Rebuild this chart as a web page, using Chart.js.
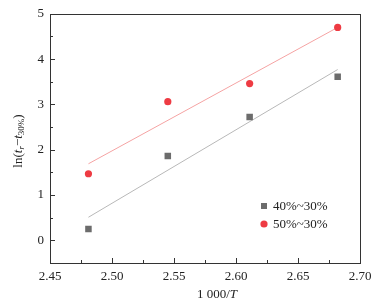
<!DOCTYPE html>
<html>
<head>
<meta charset="utf-8">
<script src="https://cdn.jsdelivr.net/npm/chart.js@4"></script>
<style>
  html, body { margin: 0; padding: 0; background: #fff; }
  #wrap { width: 384px; height: 306px; position: relative; }
</style>
</head>
<body>
<div id="wrap"><canvas id="chart"></canvas></div>
<script>
// values
const xVals = [2.481, 2.545, 2.611, 2.682];
const grey40 = [0.25, 1.86, 2.72, 3.61];
const red50 = [1.47, 3.06, 3.46, 4.70];
const fitX = [2.481, 2.682];
const fitGrey = [0.51, 3.77];
const fitRed = [1.69, 4.70];
const xTicks = [2.45, 2.50, 2.55, 2.60, 2.65, 2.70];
const yTicks = [0, 1, 2, 3, 4, 5];
const seriesNames = ['40%~30%', '50%~30%'];

const FONT = '"Liberation Serif", "Times New Roman", serif';
const INK = '#333';

function pts(xs, ys) {
    return xs.map((x, i) => ({ x: x, y: ys[i] }));
}

// frame, inward ticks, axis titles and legend
const framePlugin = {
    id: 'frame',
    afterDraw(chart) {
        const ctx = chart.ctx;
        const a = chart.chartArea;
        const xs = chart.scales.x, ys = chart.scales.y;
        ctx.save();
        ctx.strokeStyle = INK;
        ctx.lineWidth = 1;
        ctx.strokeRect(Math.round(a.left) + 0.5, Math.round(a.top) + 0.5,
            Math.round(a.right - a.left), Math.round(a.bottom - a.top));

        ctx.beginPath();
        // x ticks (major + minor), pointing up
        for (let i = 0; i < xTicks.length; i++) {
            const px = Math.round(xs.getPixelForValue(xTicks[i])) + 0.5;
            ctx.moveTo(px, a.bottom);
            ctx.lineTo(px, a.bottom - 5);
            if (i < xTicks.length - 1) {
                const mx = Math.round(xs.getPixelForValue((xTicks[i] + xTicks[i + 1]) / 2)) + 0.5;
                ctx.moveTo(mx, a.bottom);
                ctx.lineTo(mx, a.bottom - 3);
            }
        }
        // y ticks, pointing right
        const yAll = [-0.5].concat(yTicks);
        for (let i = 0; i < yAll.length; i++) {
            const v = yAll[i];
            const py = Math.round(ys.getPixelForValue(v)) + 0.5;
            const major = Number.isInteger(v);
            ctx.moveTo(a.left, py);
            ctx.lineTo(a.left + (major ? 5 : 3), py);
            if (major && v < 5) {
                const my = Math.round(ys.getPixelForValue(v + 0.5)) + 0.5;
                ctx.moveTo(a.left, my);
                ctx.lineTo(a.left + 3, my);
            }
        }
        ctx.stroke();

        // x title: 1 000/T
        ctx.fillStyle = '#222';
        ctx.textBaseline = 'middle';
        const part1 = '1 000/';
        ctx.font = '13px ' + FONT;
        const w1 = ctx.measureText(part1).width;
        ctx.font = 'italic 13px ' + FONT;
        const w2 = ctx.measureText('T').width;
        const sx = 217 - (w1 + w2) / 2;
        ctx.font = '13px ' + FONT;
        ctx.textAlign = 'left';
        ctx.fillText(part1, sx, 295);
        ctx.font = 'italic 13px ' + FONT;
        ctx.fillText('T', sx + w1, 295);

        // y title: ln(t_r - t_30%)
        const runs = [
            { t: 'ln(', f: '13px ', dy: 0 },
            { t: 't', f: 'italic 13px ', dy: 0 },
            { t: 'r', f: 'italic 9px ', dy: 3 },
            { t: '\u2212', f: '13px ', dy: 0 },
            { t: 't', f: 'italic 13px ', dy: 0 },
            { t: '30%', f: '9px ', dy: 3 },
            { t: ')', f: '13px ', dy: 0 }
        ];
        let total = 0;
        runs.forEach(r => { ctx.font = r.f + FONT; r.w = ctx.measureText(r.t).width; total += r.w; });
        ctx.translate(19, 141);
        ctx.rotate(-Math.PI / 2);
        let cx = -total / 2;
        runs.forEach(r => {
            ctx.font = r.f + FONT;
            ctx.fillText(r.t, cx, r.dy);
            cx += r.w;
        });
        ctx.setTransform(1, 0, 0, 1, 0, 0);

        // legend
        const ds = chart.data.datasets;
        const rows = [{ d: ds[0], y: 206 }, { d: ds[1], y: 224 }];
        rows.forEach(row => {
            ctx.fillStyle = row.d.backgroundColor;
            if (row.d.pointStyle === 'rect') {
                ctx.fillRect(261, row.y - 3, 6, 6);
            } else {
                ctx.beginPath();
                ctx.arc(264, row.y, 3.6, 0, Math.PI * 2);
                ctx.fill();
            }
            ctx.fillStyle = '#222';
            ctx.font = '13px ' + FONT;
            ctx.textAlign = 'left';
            ctx.fillText(row.d.label, 273, row.y + 1);
        });
        ctx.restore();
    }
};

const chart = new Chart(document.getElementById('chart'), {
    type: 'scatter',
    data: {
        datasets: [
            {
                label: seriesNames[0],
                data: pts(xVals, grey40),
                pointStyle: 'rect',
                pointRadius: 4.6,
                backgroundColor: '#6c6c6c',
                borderWidth: 0
            },
            {
                label: seriesNames[1],
                data: pts(xVals, red50),
                pointStyle: 'circle',
                pointRadius: 3.6,
                backgroundColor: '#ee3b43',
                borderWidth: 0
            },
            {
                label: 'fit40',
                type: 'line',
                data: pts(fitX, fitGrey),
                borderColor: '#b8b8b8',
                borderWidth: 1,
                pointRadius: 0,
                fill: false
            },
            {
                label: 'fit50',
                type: 'line',
                data: pts(fitX, fitRed),
                borderColor: '#f5a3a3',
                borderWidth: 1,
                pointRadius: 0,
                fill: false
            }
        ]
    },
    options: {
        responsive: true,
        maintainAspectRatio: false,
        animation: false,
        layout: { padding: { left: 0, top: 10, right: 24, bottom: 0 } },
        plugins: {
            legend: { display: false },
            tooltip: { enabled: false }
        },
        scales: {
            x: {
                type: 'linear',
                min: 2.45,
                max: 2.70,
                afterBuildTicks: s => { s.ticks = xTicks.map(v => ({ value: v })); },
                afterFit: s => { s.height = 43; },
                grid: { display: false, drawTicks: false },
                border: { display: false },
                ticks: {
                    color: '#222',
                    padding: 6,
                    maxRotation: 0,
                    autoSkip: false,
                    font: { family: FONT, size: 13 },
                    callback: v => v.toFixed(2)
                }
            },
            y: {
                type: 'linear',
                min: -0.5,
                max: 5,
                afterBuildTicks: s => { s.ticks = yTicks.map(v => ({ value: v })); },
                afterFit: s => { s.width = 50; },
                grid: { display: false, drawTicks: false },
                border: { display: false },
                ticks: {
                    color: '#222',
                    padding: 6,
                    autoSkip: false,
                    font: { family: FONT, size: 13 },
                    callback: v => String(v)
                }
            }
        }
    },
    plugins: [framePlugin]
});
</script>
</body>
</html>
